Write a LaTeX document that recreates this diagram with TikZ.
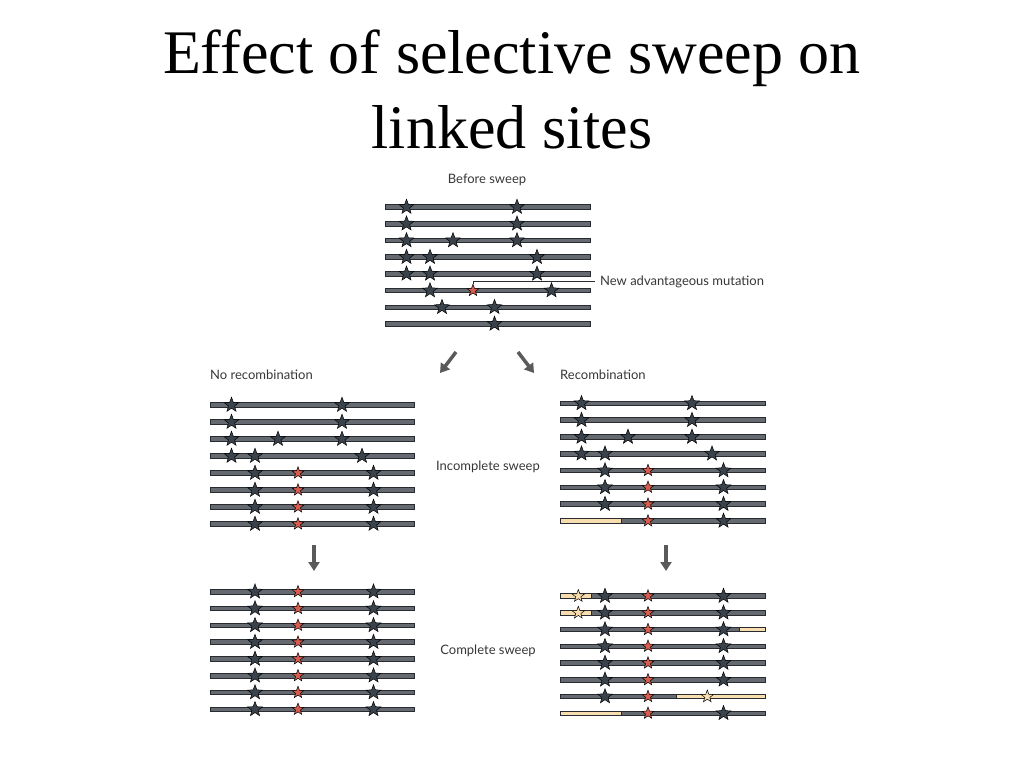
\documentclass[tikz,border=0pt]{standalone}
\usepackage{fontspec}
\setmainfont{Liberation Serif}
\newfontfamily\labelfont{Lato}
\usepackage{tikz}
\usetikzlibrary{shapes.geometric,arrows.meta}

\definecolor{barfill}{RGB}{100,106,112}
\definecolor{barline}{RGB}{40,43,47}
\definecolor{starfill}{RGB}{58,66,76}
\definecolor{redstar}{RGB}{214,92,80}
\definecolor{beige}{RGB}{248,222,175}
\definecolor{labelgray}{RGB}{55,55,55}
\definecolor{arrowgray}{RGB}{90,90,90}

\tikzset{
  bar/.style={draw=barline, fill=barfill, line width=0.7pt},
  oldbar/.style={draw=barline, fill=beige, line width=0.7pt},
  gstar/.style={star, star points=5, star point ratio=2.4, minimum size=15.5pt, inner sep=0pt, draw=black, fill=starfill, line width=0.5pt},
  rstar/.style={gstar, fill=redstar, minimum size=12.5pt},
  bstar/.style={gstar, fill=beige, minimum size=13pt},
  lab/.style={font=\labelfont\fontsize{13}{15}\selectfont, text=labelgray, inner sep=0pt},
  sweep/.style={-{Triangle[length=9pt,width=11pt]}, line width=3.5pt, draw=arrowgray}
}

\begin{document}
\begin{tikzpicture}[x=1pt,y=-1pt]
    \useasboundingbox (0,0) rectangle (1024,768);
    \node[font=\fontsize{62}{74}\selectfont, anchor=base] (title1) at (512,74) {Effect of selective sweep on};
    \node[font=\fontsize{62}{74}\selectfont, anchor=base] (title2) at (512,148.3) {linked sites};

    % before sweep
    \begin{scope}[shift={(385,207)}]
        \foreach \r in {0,...,7} \draw[bar] (0,{\r*16.7-2.3}) rectangle (205,{\r*16.7+2.3});
        \foreach \row [count=\r] in {{21.5/gstar,132/gstar},{21.5/gstar,132/gstar},{21.5/gstar,68/gstar,132/gstar},
            {21.5/gstar,45/gstar,152/gstar},{21.5/gstar,45/gstar,152/gstar},{45/gstar,88/rstar,166.5/gstar},
            {57/gstar,109.5/gstar},{109.5/gstar}}
            \foreach \x/\s [count=\k] in \row \node[\s] (top-\r-\k) at (\x,{(\r-1)*16.7}) {};
    \end{scope}
    \node[lab] (before) at (487,180) {Before sweep};
    \node[lab, anchor=west] (newlab) at (600,281.7) {New advantageous mutation};
    \draw[barline, line width=0.6pt, shorten >=5pt] (top-6-2.north) |- (newlab.west);

    \coordinate (la1) at (456,352); \coordinate (la2) at (440,373);
    \coordinate (ra1) at (518,352); \coordinate (ra2) at (534,373);
    \draw[sweep] (la1) -- (la2);
    \draw[sweep] (ra1) -- (ra2);

    % no recombination
    \node[lab, anchor=west] (norec) at (210,375) {No recombination};
    \begin{scope}[shift={(210,405)}]
        \foreach \r in {0,...,7} \draw[bar] (0,{\r*17-2.3}) rectangle (204,{\r*17+2.3});
        \foreach \row [count=\r] in {{21.5/gstar,132/gstar},{21.5/gstar,132/gstar},{21.5/gstar,68/gstar,132/gstar},
            {21.5/gstar,45/gstar,152/gstar},{45/gstar,88/rstar,163.5/gstar},{45/gstar,88/rstar,163.5/gstar},
            {45/gstar,88/rstar,163.5/gstar},{45/gstar,88/rstar,163.5/gstar}}
            \foreach \x/\s [count=\k] in \row \node[\s] (nr-\r-\k) at (\x,{(\r-1)*17}) {};
    \end{scope}

    % recombination
    \node[lab, anchor=west] (rec) at (560,375) {Recombination};
    \begin{scope}[shift={(560,403.3)}]
        \foreach \r in {0,...,7} \draw[bar] (0,{\r*16.8-2.3}) rectangle (205,{\r*16.8+2.3});
        \draw[oldbar] (0,{7*16.8-2.3}) rectangle (61.7,{7*16.8+2.3});
        \foreach \row [count=\r] in {{21.5/gstar,132/gstar},{21.5/gstar,132/gstar},{21.5/gstar,68/gstar,132/gstar},
            {21.5/gstar,45/gstar,152/gstar},{45/gstar,88/rstar,163.5/gstar},{45/gstar,88/rstar,163.5/gstar},
            {45/gstar,88/rstar,163.5/gstar},{88/rstar,163.5/gstar}}
            \foreach \x/\s [count=\k] in \row \node[\s] (re-\r-\k) at (\x,{(\r-1)*16.8}) {};
    \end{scope}
    \node[lab] (incomplete) at (488,467) {Incomplete sweep};

    \coordinate (ld1) at (314,545); \coordinate (ld2) at (314,571);
    \coordinate (rd1) at (666,545); \coordinate (rd2) at (666,571);
    \draw[sweep] (ld1) -- (ld2);
    \draw[sweep] (rd1) -- (rd2);

    % complete sweep, no recombination
    \begin{scope}[shift={(210,591.7)}]
        \foreach \r in {0,...,7} {
            \draw[bar] (0,{\r*16.8-2.3}) rectangle (204,{\r*16.8+2.3});
            \foreach \x/\s [count=\k] in {45/gstar,88/rstar,163.5/gstar} \node[\s] (cn-\r-\k) at (\x,{\r*16.8}) {};
        }
    \end{scope}
    \node[lab] (complete) at (488,651) {Complete sweep};

    % complete sweep, recombination
    \begin{scope}[shift={(560,596)}]
        \foreach \r in {0,...,7} \draw[bar] (0,{\r*16.75-2.3}) rectangle (205,{\r*16.75+2.3});
        \draw[oldbar] (0,-2.3) rectangle (31.7,2.3);
        \draw[oldbar] (0,{16.75-2.3}) rectangle (31.7,{16.75+2.3});
        \draw[oldbar] (179.3,{2*16.75-2.3}) rectangle (205,{2*16.75+2.3});
        \draw[oldbar] (116,{6*16.75-2.3}) rectangle (205,{6*16.75+2.3});
        \draw[oldbar] (0,{7*16.75-2.3}) rectangle (61.7,{7*16.75+2.3});
        \foreach \row [count=\r] in {{18.3/bstar,45/gstar,88/rstar,163.5/gstar},{18.3/bstar,45/gstar,88/rstar,163.5/gstar},
            {45/gstar,88/rstar,163.5/gstar},{45/gstar,88/rstar,163.5/gstar},{45/gstar,88/rstar,163.5/gstar},
            {45/gstar,88/rstar,163.5/gstar},{45/gstar,88/rstar,147.3/bstar},{88/rstar,163.5/gstar}}
            \foreach \x/\s [count=\k] in \row \node[\s] (cr-\r-\k) at (\x,{(\r-1)*16.75}) {};
    \end{scope}
\end{tikzpicture}
\end{document}
